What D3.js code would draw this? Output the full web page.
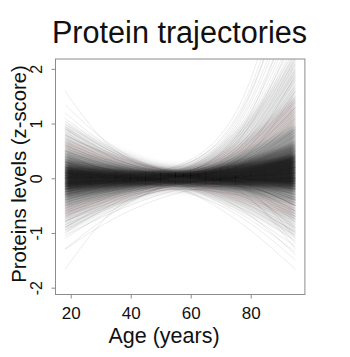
<!DOCTYPE html>
<html>
<head>
<meta charset="utf-8">
<script src="https://cdn.jsdelivr.net/npm/d3@7"></script>
<style>
  html, body { margin: 0; padding: 0; background: #fff; }
  svg { display: block; font-family: "Liberation Sans", Arial, Helvetica, sans-serif; }
</style>
</head>
<body>
<svg id="chart" width="350" height="357"></svg>
<script>
// Ages at which each smoothed trajectory is sampled
const ages = [18, 35, 55, 75, 95];
const xTicks = [20, 40, 60, 80];
const yTicks = [-2, -1, 0, 1, 2];

// Density envelopes of the bulk of proteins (outer to inner), z-score at each age
const bandUpper = [
  [1.00, 0.55, 0.25, 0.85, 2.30],
  [0.72, 0.42, 0.20, 0.60, 1.50],
  [0.50, 0.30, 0.16, 0.42, 0.95],
  [0.33, 0.20, 0.13, 0.30, 0.62],
  [0.20, 0.13, 0.10, 0.22, 0.42]
];
const bandLower = [
  [-1.00, -0.55, -0.25, -0.55, -1.10],
  [-0.72, -0.42, -0.20, -0.40, -0.75],
  [-0.50, -0.30, -0.16, -0.27, -0.45],
  [-0.33, -0.21, -0.12, -0.18, -0.25],
  [-0.19, -0.13, -0.09, -0.11, -0.14]
];

// Individual protein trajectories (z-score at each age)
const risingLate = [
  [-0.10, 0.00, 0.22, 1.20, 4.60], [0.00, 0.05, 0.20, 1.10, 4.20], [-0.20, -0.05, 0.18, 1.05, 3.90],
  [0.10, 0.05, 0.15, 0.95, 3.60], [-0.30, -0.10, 0.12, 0.90, 3.40], [0.20, 0.10, 0.15, 0.85, 3.20],
  [-0.40, -0.15, 0.10, 0.80, 3.00], [0.00, 0.00, 0.12, 0.75, 2.90], [-0.50, -0.20, 0.08, 0.70, 2.75],
  [0.30, 0.12, 0.12, 0.70, 2.60], [-0.15, -0.05, 0.10, 0.65, 2.50], [-0.60, -0.25, 0.05, 0.62, 2.40],
  [0.10, 0.05, 0.10, 0.60, 2.30], [-0.25, -0.10, 0.08, 0.55, 2.20], [0.40, 0.15, 0.10, 0.55, 2.10],
  [-0.70, -0.30, 0.03, 0.50, 2.00], [0.05, 0.02, 0.08, 0.50, 1.95], [-0.35, -0.12, 0.06, 0.48, 1.85],
  [0.20, 0.08, 0.08, 0.45, 1.80], [-0.10, -0.04, 0.06, 0.45, 1.70], [-0.80, -0.35, 0.00, 0.42, 1.65],
  [0.15, 0.06, 0.07, 0.40, 1.60], [-0.45, -0.18, 0.04, 0.40, 1.50], [0.50, 0.20, 0.08, 0.38, 1.45],
  [-0.20, -0.08, 0.05, 0.36, 1.40], [0.00, 0.00, 0.05, 0.35, 1.30], [-0.55, -0.22, 0.02, 0.33, 1.25],
  [0.25, 0.10, 0.06, 0.32, 1.20], [-0.05, -0.02, 0.04, 0.30, 1.15], [-0.30, -0.12, 0.03, 0.30, 1.10],
  [0.10, 0.04, 0.05, 0.28, 1.05], [-1.00, -0.45, -0.02, 0.28, 1.00], [0.35, 0.12, 0.05, 0.26, 0.95],
  [-0.15, -0.06, 0.03, 0.25, 0.90], [0.00, 0.00, 0.04, 0.24, 0.85], [-0.40, -0.16, 0.02, 0.22, 0.80],
  [0.15, 0.05, 0.04, 0.22, 0.78], [-0.65, -0.28, 0.00, 0.20, 0.75], [0.05, 0.02, 0.03, 0.20, 0.70],
  [-0.25, -0.10, 0.02, 0.18, 0.68], [0.60, 0.25, 0.06, 0.20, 0.65], [-0.08, -0.03, 0.02, 0.17, 0.62],
  [-1.30, -0.60, -0.05, 0.20, 0.90], [-1.67, -0.55, -0.08, 0.30, 1.30], [0.80, 0.35, 0.08, 0.25, 1.10],
  [1.00, 0.45, 0.10, 0.30, 1.60], [-0.90, -0.40, -0.03, 0.35, 1.90], [0.30, 0.10, 0.10, 0.75, 3.30],
  [-0.20, -0.05, 0.15, 1.00, 4.00], [0.45, 0.15, 0.12, 0.65, 2.70]
];
const highYoung = [
  [1.60, 0.50, 0.10, -0.05, -0.40], [1.35, 0.55, 0.12, 0.05, 0.10], [1.20, 0.50, 0.10, 0.00, -0.20],
  [1.05, 0.45, 0.15, 0.10, 0.30], [0.95, 0.40, 0.10, -0.05, -0.50], [0.90, 0.42, 0.12, 0.05, 0.00],
  [0.85, 0.35, 0.08, -0.10, -0.70], [0.80, 0.38, 0.12, 0.10, 0.20], [0.75, 0.30, 0.06, -0.08, -0.45],
  [0.72, 0.33, 0.10, 0.02, -0.10], [0.68, 0.28, 0.08, -0.12, -0.80], [0.65, 0.30, 0.10, 0.05, 0.15],
  [0.62, 0.25, 0.06, -0.05, -0.30], [0.60, 0.28, 0.08, 0.00, -0.05], [0.57, 0.22, 0.05, -0.15, -0.95],
  [0.55, 0.25, 0.08, 0.08, 0.40], [0.52, 0.20, 0.05, -0.06, -0.35], [0.50, 0.22, 0.07, 0.00, 0.00],
  [0.48, 0.18, 0.04, -0.10, -0.60], [0.45, 0.20, 0.06, 0.04, 0.20], [0.43, 0.16, 0.04, -0.04, -0.25],
  [0.40, 0.18, 0.05, 0.02, 0.05], [0.38, 0.14, 0.03, -0.08, -0.50], [0.36, 0.15, 0.05, 0.00, -0.10],
  [0.34, 0.12, 0.03, -0.12, -1.10], [0.32, 0.14, 0.04, 0.03, 0.10], [0.30, 0.10, 0.02, -0.05, -0.30],
  [1.10, 0.48, 0.14, 0.02, -0.15], [0.78, 0.40, 0.14, 0.12, 0.50], [0.92, 0.36, 0.06, -0.20, -1.30]
];
const lowYoung = [
  [-1.30, -0.72, -0.28, -0.10, 0.20], [-1.05, -0.60, -0.22, -0.05, 0.00], [-0.95, -0.50, -0.18, -0.10, -0.30],
  [-0.90, -0.45, -0.12, 0.05, 0.40], [-0.85, -0.48, -0.20, -0.20, -0.60], [-0.80, -0.40, -0.12, 0.00, 0.10],
  [-0.75, -0.42, -0.16, -0.15, -0.50], [-0.72, -0.35, -0.10, 0.02, 0.25], [-0.68, -0.38, -0.15, -0.10, -0.20],
  [-0.65, -0.32, -0.10, -0.05, -0.05], [-0.62, -0.34, -0.14, -0.18, -0.75], [-0.60, -0.30, -0.10, 0.00, 0.15],
  [-0.57, -0.30, -0.12, -0.12, -0.40], [-0.55, -0.27, -0.08, 0.03, 0.30], [-0.52, -0.28, -0.12, -0.08, -0.15],
  [-0.50, -0.25, -0.08, -0.03, 0.00], [-0.48, -0.26, -0.10, -0.15, -0.65], [-0.45, -0.22, -0.07, 0.00, 0.10],
  [-0.43, -0.22, -0.09, -0.10, -0.35], [-0.40, -0.20, -0.06, -0.02, -0.05], [-0.38, -0.20, -0.08, -0.12, -0.50],
  [-0.36, -0.17, -0.05, 0.02, 0.20], [-0.34, -0.18, -0.07, -0.06, -0.20], [-0.32, -0.15, -0.05, -0.02, 0.00],
  [-1.10, -0.55, -0.15, -0.25, -0.90], [-0.78, -0.46, -0.20, -0.30, -1.20]
];
const fallingLate = [
  [0.20, 0.05, -0.15, -0.75, -1.67], [0.00, -0.05, -0.20, -0.65, -1.50], [-0.10, -0.08, -0.15, -0.60, -1.35],
  [0.30, 0.10, -0.10, -0.55, -1.25], [0.10, 0.00, -0.12, -0.50, -1.15], [-0.20, -0.10, -0.14, -0.45, -1.05],
  [0.05, 0.00, -0.10, -0.42, -0.98], [0.15, 0.05, -0.08, -0.40, -0.90], [-0.05, -0.04, -0.10, -0.36, -0.85],
  [0.25, 0.08, -0.06, -0.33, -0.80], [-0.15, -0.08, -0.10, -0.30, -0.75], [0.08, 0.02, -0.07, -0.28, -0.70],
  [-0.25, -0.12, -0.10, -0.26, -0.65], [0.12, 0.03, -0.06, -0.24, -0.60], [0.00, -0.02, -0.07, -0.22, -0.55],
  [-0.08, -0.05, -0.08, -0.20, -0.50], [0.18, 0.05, -0.04, -0.18, -0.45], [0.02, 0.00, -0.05, -0.16, -0.40],
  [-0.12, -0.06, -0.06, -0.15, -0.38], [0.06, 0.02, -0.04, -0.14, -0.35], [0.40, 0.12, -0.08, -0.50, -1.40],
  [-0.30, -0.15, -0.12, -0.38, -1.00]
];

const svg = d3.select("#chart");

const x = d3.scaleLinear().domain([14.92, 98.08]).range([55.5, 304.9]);
const y = d3.scaleLinear().domain([-2.125, 2.18]).range([294.5, 59]);

const defs = svg.append("defs");
defs.append("clipPath").attr("id", "plot-clip")
  .append("rect")
  .attr("x", x(ages[0])).attr("y", y.range()[1])
  .attr("width", x(ages[ages.length - 1]) - x(ages[0]))
  .attr("height", y.range()[0] - y.range()[1]);
defs.append("filter").attr("id", "soft")
  .attr("x", "-10%").attr("y", "-30%").attr("width", "120%").attr("height", "160%")
  .append("feGaussianBlur").attr("stdDeviation", 2.2);

const plot = svg.append("g").attr("clip-path", "url(#plot-clip)");

// Density envelopes
const bandOpacity = [0.09, 0.14, 0.25, 0.5, 0.92];
const area = d3.area()
  .x(d => x(d.age))
  .y0(d => y(d.lo))
  .y1(d => y(d.hi))
  .curve(d3.curveMonotoneX);
const bands = plot.append("g").attr("filter", "url(#soft)");
bandUpper.forEach((up, k) => {
  const pts = ages.map((a, i) => ({ age: a, hi: up[i], lo: bandLower[k][i] }));
  bands.append("path")
    .attr("d", area(pts))
    .attr("fill", "#1c1a1a")
    .attr("fill-opacity", bandOpacity[k]);
});

// Trajectory lines
const line = d3.line()
  .x((d, i) => x(ages[i]))
  .y(d => y(d))
  .curve(d3.curveMonotoneX);
const allLines = [].concat(risingLate, highYoung, lowYoung, fallingLate);
plot.append("g")
  .selectAll("path")
  .data(allLines)
  .join("path")
  .attr("d", line)
  .attr("fill", "none")
  .attr("stroke", "#222")
  .attr("stroke-opacity", 0.1)
  .attr("stroke-width", 0.85);

// Plot frame
svg.append("rect")
  .attr("x", x.range()[0]).attr("y", y.range()[1])
  .attr("width", x.range()[1] - x.range()[0])
  .attr("height", y.range()[0] - y.range()[1])
  .attr("fill", "none")
  .attr("stroke", "#8c8c8c")
  .attr("stroke-width", 1);

// Axes
const xAxis = svg.append("g")
  .attr("transform", `translate(0,${y.range()[0]})`)
  .call(d3.axisBottom(x).tickValues(xTicks).tickSize(4).tickFormat(d => String(d)));
xAxis.select(".domain").remove();
xAxis.selectAll(".tick line").attr("stroke", "#8c8c8c");
xAxis.selectAll(".tick text")
  .attr("y", 24).attr("dy", null)
  .attr("fill", "#111")
  .attr("font-size", 17)
  .attr("font-family", "Liberation Sans, Arial, sans-serif");

const yAxis = svg.append("g")
  .attr("transform", `translate(${x.range()[0]},0)`)
  .call(d3.axisLeft(y).tickValues(yTicks).tickSize(4).tickFormat(d => String(d)));
yAxis.select(".domain").remove();
yAxis.selectAll(".tick line").attr("stroke", "#8c8c8c");
yAxis.selectAll(".tick text")
  .attr("x", 0).attr("y", 0).attr("dy", null)
  .attr("transform", "translate(-13.5,0) rotate(-90)")
  .attr("text-anchor", "middle")
  .attr("fill", "#111")
  .attr("font-size", 16)
  .attr("font-family", "Liberation Sans, Arial, sans-serif");

// Titles
svg.append("text")
  .attr("x", 179.5).attr("y", 42.7)
  .attr("text-anchor", "middle")
  .attr("font-size", 30.6)
  .attr("fill", "#111")
  .text("Protein trajectories");

svg.append("text")
  .attr("x", 164).attr("y", 342.5)
  .attr("text-anchor", "middle")
  .attr("font-size", 21.5)
  .attr("fill", "#111")
  .text("Age (years)");

svg.append("text")
  .attr("transform", "translate(26,174) rotate(-90)")
  .attr("text-anchor", "middle")
  .attr("font-size", 20.3)
  .attr("fill", "#111")
  .text("Proteins levels (z-score)");
</script>
</body>
</html>
